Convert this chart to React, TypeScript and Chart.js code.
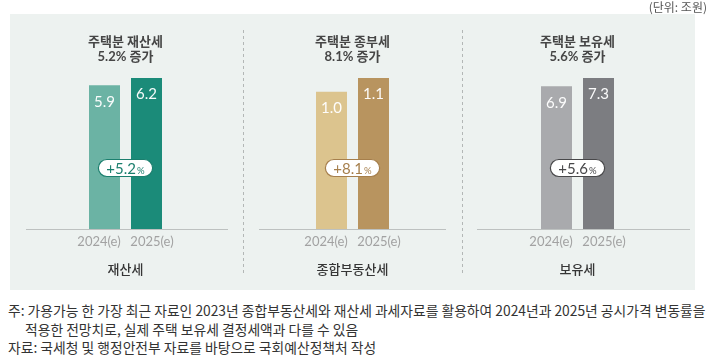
import React, { useEffect, useRef } from 'react';
import { Chart, registerables } from 'chart.js';

Chart.register(...registerables);

// ---- data ----
const years = ['2024(e)', '2025(e)'];
const taxNames = ['재산세', '종합부동산세', '보유세'];
const titleNames = ['주택분 재산세', '주택분 종부세', '주택분 보유세'];
const values2024 = [5.9, 1.0, 6.9];
const values2025 = [6.2, 1.1, 7.3];
const growthRates = [5.2, 8.1, 5.6];
const unitLabel = '(단위: 조원)';
const noteLines = [
  '주: 가용가능 한 가장 최근 자료인 2023년 종합부동산세와 재산세 과세자료를 활용하여 2024년과 2025년 공시가격 변동률을',
  '적용한 전망치로, 실제 주택 보유세 결정세액과 다를 수 있음',
  '자료: 국세청 및 행정안전부 자료를 바탕으로 국회예산정책처 작성',
];

// ---- styles ----
const palette = [
  { light: '#6bb3a4', dark: '#1b8b79', accent: '#1b7f6e' },
  { light: '#dcc48e', dark: '#b8945f', accent: '#a67f4c' },
  { light: '#a9aaad', dark: '#7c7d81', accent: '#48484a' },
];

const panelLayouts = [
  { left: 10, width: 233, mid: 125.5, lineFrom: 26, lineTo: 228 },
  { left: 244, width: 218, mid: 352.5, lineFrom: 259, lineTo: 446 },
  { left: 463, width: 232, mid: 577.5, lineFrom: 477, lineTo: 690 },
];

const CANVAS_TOP = 14;
const CANVAS_H = 276;
const CAT_W = 53;
const FONT = "Lato, 'Noto Sans CJK KR', sans-serif";
const KFONT = "'Noto Sans CJK KR', sans-serif";

function makeDecor(idx: number) {
  const lay = panelLayouts[idx];
  const col = palette[idx];
  return {
    id: 'decor' + idx,
    beforeDatasetsDraw(chart: any) {
      const { ctx } = chart;
      const y = Math.round(chart.scales.y.getPixelForValue(0)) + 0.5;
      ctx.save();
      ctx.strokeStyle = '#bdc1c0';
      ctx.lineWidth = 1.2;
      ctx.beginPath();
      ctx.moveTo(lay.lineFrom - lay.left, y);
      ctx.lineTo(lay.lineTo - lay.left, y);
      ctx.stroke();
      ctx.restore();
    },
    afterDatasetsDraw(chart: any) {
      const { ctx, chartArea } = chart;
      ctx.save();
      // value labels
      ctx.fillStyle = 'rgba(255,255,255,0.96)';
      ctx.font = `15px ${FONT}`;
      ctx.textAlign = 'center';
      ctx.textBaseline = 'middle';
      chart.data.datasets.forEach((ds: any, di: number) => {
        const meta = chart.getDatasetMeta(di);
        meta.data.forEach((bar: any, i: number) => {
          const v = ds.data[i];
          if (v == null) return;
          ctx.fillText(Number(v).toFixed(1), bar.x, bar.y + 16.5);
        });
      });
      // growth badge
      const b2024 = chart.getDatasetMeta(1).data[0];
      const b2025 = chart.getDatasetMeta(0).data[1];
      const cx = (b2024.x + b2025.x) / 2;
      const cy = chartArea.bottom - 61;
      const main = '+' + growthRates[idx].toFixed(1);
      ctx.font = `15px ${FONT}`;
      const w1 = ctx.measureText(main).width;
      ctx.font = `9.5px ${FONT}`;
      const w2 = ctx.measureText('%').width;
      const total = w1 + w2 + 1;
      const bw = total + 16;
      const bh = 17;
      ctx.beginPath();
      ctx.roundRect(cx - bw / 2, cy - bh / 2, bw, bh, bh / 2);
      ctx.fillStyle = '#ffffff';
      ctx.fill();
      ctx.strokeStyle = col.accent;
      ctx.lineWidth = 1.2;
      ctx.stroke();
      ctx.fillStyle = col.accent;
      ctx.textAlign = 'left';
      ctx.textBaseline = 'alphabetic';
      const sx = cx - total / 2;
      ctx.font = `15px ${FONT}`;
      ctx.fillText(main, sx, cy + 5.5);
      ctx.font = `9.5px ${FONT}`;
      ctx.fillText('%', sx + w1 + 1, cy + 5.5);
      ctx.restore();
    },
  };
}

function Panel({ idx }: { idx: number }) {
  const ref = useRef<HTMLCanvasElement>(null);
  const lay = panelLayouts[idx];
  const col = palette[idx];
  useEffect(() => {
    if (!ref.current) return;
    const padL = lay.mid - CAT_W - lay.left;
    const padR = lay.left + lay.width - (lay.mid + CAT_W);
    const chart = new Chart(ref.current, {
      type: 'bar',
      data: {
        labels: years,
        datasets: [
          { label: years[1], data: [null, values2025[idx]], backgroundColor: col.dark },
          { label: years[0], data: [values2024[idx], null], backgroundColor: col.light },
        ],
      },
      options: {
        animation: false,
        responsive: false,
        maintainAspectRatio: false,
        layout: { padding: { left: padL, right: padR, top: 0, bottom: 12.5 } },
        datasets: { bar: { categoryPercentage: 22 / CAT_W, barPercentage: 31 / 11 } },
        plugins: {
          legend: { display: false },
          tooltip: { enabled: false },
          title: {
            display: true,
            text: [titleNames[idx], `${growthRates[idx].toFixed(1)}% 증가`],
            color: '#464646',
            font: { family: FONT, size: 13, weight: 'bold', lineHeight: '15px' },
            padding: { top: 20.5, bottom: 13.5 },
          },
        },
        scales: {
          x: {
            grid: { display: false, drawTicks: false },
            border: { display: false },
            ticks: { color: '#a2a2a2', font: { family: FONT, size: 13, lineHeight: '14px' }, padding: 6 },
            title: {
              display: true,
              text: taxNames[idx],
              color: '#363636',
              font: { family: FONT, size: 13, weight: '500', lineHeight: '15px' },
              padding: { top: 7.5, bottom: 0 },
            },
          },
          y: {
            display: false,
            min: 0,
            max: Math.max(values2024[idx], values2025[idx]),
          },
        },
      } as any,
      plugins: [makeDecor(idx)],
    });
    return () => chart.destroy();
  }, []);
  return (
    <canvas
      ref={ref}
      width={lay.width}
      height={CANVAS_H}
      style={{ position: 'absolute', left: lay.left, top: CANVAS_TOP, width: lay.width, height: CANVAS_H }}
    />
  );
}

export default function App() {
  const dash = 'repeating-linear-gradient(to bottom, #b3b7b6 0px, #b3b7b6 3px, transparent 3px, transparent 6px)';
  return (
    <div style={{ position: 'absolute', left: 0, top: 0, width: 710, height: 362, background: '#ffffff', overflow: 'hidden' }}>
      <div style={{ position: 'absolute', left: 10, top: 14, width: 685, height: 276, background: '#edf2f0' }} />
      <div style={{ position: 'absolute', left: 243, top: 30, width: 1, height: 245, background: dash }} />
      <div style={{ position: 'absolute', left: 462, top: 30, width: 1, height: 245, background: dash }} />
      {[0, 1, 2].map((i) => (
        <Panel key={i} idx={i} />
      ))}
      <div style={{ position: 'absolute', right: 3, top: 0, fontFamily: KFONT, fontSize: 12, lineHeight: '14px', color: '#555', whiteSpace: 'nowrap' }}>
        {unitLabel}
      </div>
      <div style={{ position: 'absolute', left: 8, top: 301, fontFamily: KFONT, fontSize: 13.8, lineHeight: '18.5px', color: '#333', whiteSpace: 'nowrap' }}>
        <div>{noteLines[0]}</div>
        <div style={{ paddingLeft: 17 }}>{noteLines[1]}</div>
        <div>{noteLines[2]}</div>
      </div>
    </div>
  );
}
